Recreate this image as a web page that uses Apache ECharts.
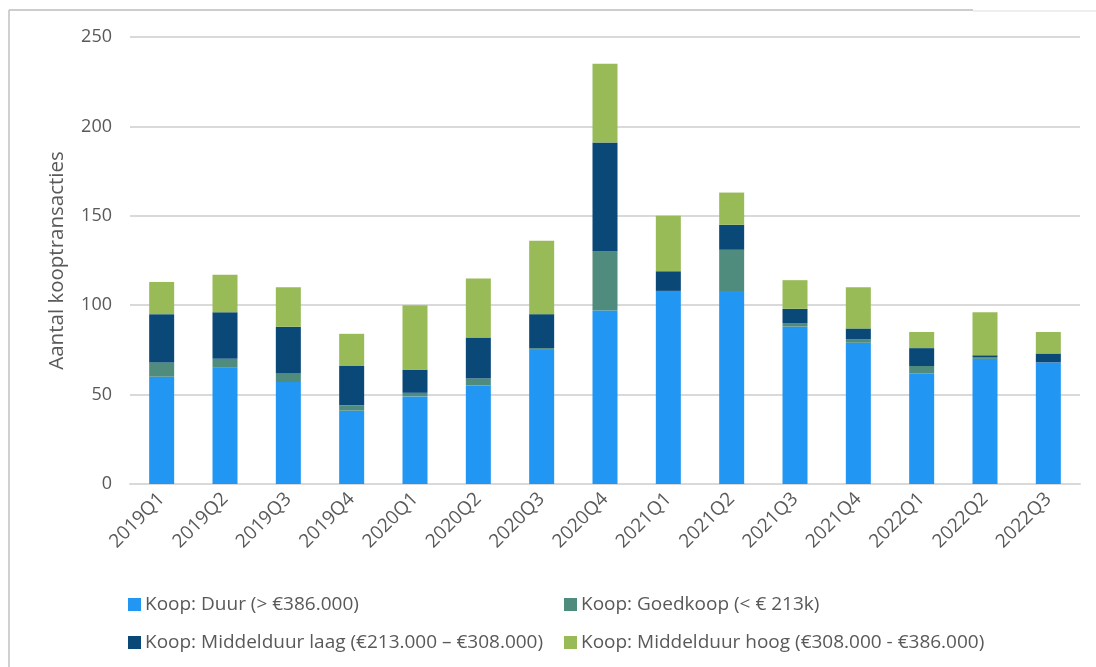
<!DOCTYPE html>
<html>
<head>
<meta charset="utf-8">
<script src="https://cdn.jsdelivr.net/npm/echarts@6/dist/echarts.min.js"></script>
<style>
html,body{margin:0;padding:0;background:#fff;}
#chart{width:1096px;height:667px;}
</style>
</head>
<body>
<div id="chart"></div>
<script>
const categories = ['2019Q1','2019Q2','2019Q3','2019Q4','2020Q1','2020Q2','2020Q3','2020Q4','2021Q1','2021Q2','2021Q3','2021Q4','2022Q1','2022Q2','2022Q3'];
const duur        = [60, 65, 57, 41, 49, 55, 75, 97, 108, 108, 88, 79, 62, 70, 68];
const goedkoop    = [8, 5, 5, 3, 2, 4, 1, 33, 0, 23, 2, 2, 4, 1, 0];
const middelLaag  = [27, 26, 26, 22, 13, 23, 19, 61, 11, 14, 8, 6, 10, 1, 5];
const middelHoog  = [18, 21, 22, 18, 36, 33, 41, 44, 31, 18, 16, 23, 9, 24, 12];
const seriesNames = ['Koop: Duur (> €386.000)', 'Koop: Goedkoop (< € 213k)', 'Koop: Middelduur laag (€213.000 – €308.000)', 'Koop: Middelduur hoog (€308.000 - €386.000)'];
const yTicks = [0, 50, 100, 150, 200, 250];

const colors = ['#2196F3', '#508C7D', '#0A4878', '#98BB58'];
const FONT = 'Open Sans';
const TXT = '#595959';

const chart = echarts.init(document.getElementById('chart'), null, {renderer: 'canvas'});

function legendAt(name, left, top) {
  return {
    data: [name], left: left, top: top, padding: 0,
    icon: 'rect', itemWidth: 13, itemHeight: 13, itemGap: 0,
    textStyle: {fontFamily: FONT, fontSize: 19, color: TXT, padding: [0,0,0,-1]},
    selectedMode: false
  };
}

const dataSets = [duur, goedkoop, middelLaag, middelHoog];

chart.setOption({
  animation: false,
  backgroundColor: '#fff',
  color: colors,
  grid: {left: 130, right: 16, top: 37, bottom: 183, containLabel: false},
  legend: [
    legendAt(seriesNames[0], 128, 595),
    legendAt(seriesNames[1], 564, 595),
    legendAt(seriesNames[2], 128, 633),
    legendAt(seriesNames[3], 564, 633)
  ],
  xAxis: {
    type: 'category',
    data: categories,
    axisLine: {show: true, lineStyle: {color: '#d9d9d9', width: 2}},
    axisTick: {show: false},
    axisLabel: {rotate: 45, margin: 12, fontFamily: FONT, fontSize: 19, color: TXT, interval: 0}
  },
  yAxis: {
    type: 'value',
    min: yTicks[0], max: yTicks[yTicks.length - 1], interval: 50,
    name: 'Aantal kooptransacties',
    nameLocation: 'middle', nameGap: 62,
    nameTextStyle: {fontFamily: FONT, fontSize: 20.5, color: TXT},
    axisLine: {show: false}, axisTick: {show: false},
    axisLabel: {margin: 18, fontFamily: FONT, fontSize: 18, color: TXT},
    splitLine: {lineStyle: {color: '#d9d9d9', width: 2}}
  },
  series: dataSets.map((d, i) => ({
    name: seriesNames[i],
    type: 'bar',
    stack: 'total',
    data: d,
    barWidth: 25,
    itemStyle: {color: colors[i]}
  })),
  graphic: [
    {type: 'line', shape: {x1: 9, y1: 10, x2: 9, y2: 667}, style: {stroke: '#d0d0d0', lineWidth: 2}, silent: true},
    {type: 'line', shape: {x1: 9, y1: 10, x2: 973, y2: 10}, style: {stroke: '#bdbdbd', lineWidth: 1.5}, silent: true},
    {type: 'line', shape: {x1: 973, y1: 11, x2: 1096, y2: 11}, style: {stroke: '#e8e8e8', lineWidth: 1.5}, silent: true}
  ]
});
</script>
</body>
</html>
